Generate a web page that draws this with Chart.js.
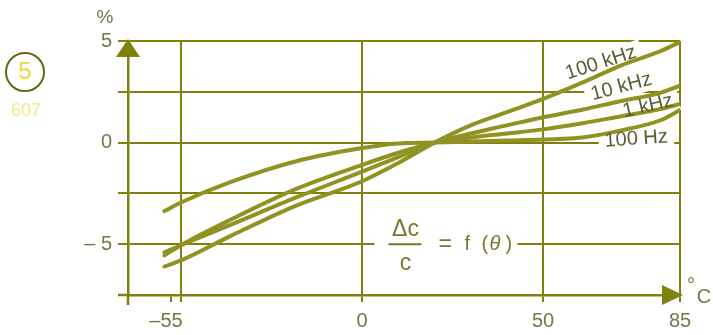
<!DOCTYPE html>
<html>
<head>
<meta charset="utf-8">
<script src="https://cdn.jsdelivr.net/npm/chart.js@4/dist/chart.umd.min.js"></script>
<style>
  html, body { margin: 0; padding: 0; background: #ffffff; }
  #wrap { width: 713px; height: 335px; }
</style>
</head>
<body>
<div id="wrap"><canvas id="chart" width="713" height="335"></canvas></div>
<script>
// Capacitance drift versus temperature, one curve per measuring frequency
const temps = [-60, -55, -40, -20, 0, 10, 20, 30, 40, 50, 60, 70, 80, 85];
const dev100kHz = [-6.1, -5.8, -4.6, -3.1, -1.9, -1.0, 0, 0.85, 1.5, 2.15, 2.95, 3.8, 4.5, 4.95];
const dev10kHz  = [-5.4, -5.05, -4.05, -2.7, -1.43, -0.72, 0, 0.45, 0.85, 1.25, 1.62, 2.05, 2.45, 2.8];
const dev1kHz   = [-5.55, -5.05, -3.8, -2.28, -1.1, -0.5, 0, 0.25, 0.45, 0.65, 0.95, 1.3, 1.65, 1.9];
const dev100Hz  = [-3.37, -2.95, -1.95, -0.92, -0.27, -0.04, 0, 0.05, 0.1, 0.15, 0.25, 0.6, 1.1, 1.6];

const seriesNames = ['100 kHz', '10 kHz', '1 kHz', '100 Hz'];
const xTickValues = [-58, -55, 0, 50, 85];
const xTickLabels = ['', '\u201355', '0', '50', '85'];
const yTickValues = [-7.5, -5, -2.5, 0, 2.5, 5];
const yTickLabels = ['', '\u2013 5', '', '0', '', '5'];

const OLIVE = 'rgb(128,128,14)';
const CURVE = 'rgb(144,146,34)';
const TEXT = 'rgb(118,118,70)';
const LABEL = 'rgb(92,92,52)';
const FONT = '"Liberation Sans", Arial, sans-serif';

// Temperature axis drawn with unequal spacing between its graduations
const knotValues = [-71, -55, 0, 50, 85];
const knotFractions = [0, 0.096, 0.424, 0.752, 1];

class PiecewiseScale extends Chart.LinearScale {
  static id = 'piecewise';
  static defaults = Chart.LinearScale.defaults;
  getPixelForValue(value) {
    if (value === null || value === undefined || isNaN(value)) return NaN;
    let i = 0;
    while (i < knotValues.length - 2 && value > knotValues[i + 1]) i++;
    const v0 = knotValues[i], v1 = knotValues[i + 1];
    const f0 = knotFractions[i], f1 = knotFractions[i + 1];
    return this.getPixelForDecimal(f0 + (value - v0) / (v1 - v0) * (f1 - f0));
  }
  getValueForPixel(pixel) {
    const d = this.getDecimalForPixel(pixel);
    let i = 0;
    while (i < knotFractions.length - 2 && d > knotFractions[i + 1]) i++;
    const v0 = knotValues[i], v1 = knotValues[i + 1];
    const f0 = knotFractions[i], f1 = knotFractions[i + 1];
    return v0 + (d - f0) / (f1 - f0) * (v1 - v0);
  }
}
Chart.register(PiecewiseScale);

function series(values) {
  return temps.map((t, i) => ({ x: t, y: values[i] }));
}

// curve captions: anchor in data units, rotation in degrees
const captions = [
  { text: '100 kHz', x: 64.8, y: 3.92, rot: -18 },
  { text: '10 kHz',  x: 70,   y: 2.74, rot: -15 },
  { text: '1 kHz',   x: 76.8, y: 1.8,  rot: -13 },
  { text: '100 Hz',  x: 73.8, y: 0.18, rot: -4 }
];
const CAPTION_FONT = '20px ' + FONT;

const decor = {
  id: 'decor',
  beforeDatasetsDraw(chart) {
    const ctx = chart.ctx, xs = chart.scales.x, ys = chart.scales.y;
    ctx.save();
    ctx.fillStyle = '#ffffff';
    ctx.font = CAPTION_FONT;
    captions.forEach(c => {
      const px = xs.getPixelForValue(c.x), py = ys.getPixelForValue(c.y);
      const w = ctx.measureText(c.text).width + 12;
      ctx.save();
      ctx.translate(px, py);
      ctx.rotate(c.rot * Math.PI / 180);
      ctx.fillRect(-w / 2, -11, w, 22);
      ctx.restore();
    });
    // gap in the -5 % line for the formula
    const fx = xs.getPixelForValue(12), fy = ys.getPixelForValue(-5);
    ctx.fillRect(fx - 31, fy - 5, 143, 10);
    ctx.restore();
  },
  afterDatasetsDraw(chart) {
    const ctx = chart.ctx, xs = chart.scales.x, ys = chart.scales.y;
    ctx.save();
    ctx.fillStyle = LABEL;
    ctx.font = CAPTION_FONT;
    ctx.textAlign = 'center';
    ctx.textBaseline = 'middle';
    captions.forEach(c => {
      const px = xs.getPixelForValue(c.x), py = ys.getPixelForValue(c.y);
      ctx.save();
      ctx.translate(px, py);
      ctx.rotate(c.rot * Math.PI / 180);
      ctx.fillText(c.text, 0, 0);
      ctx.restore();
    });
    // formula  Δc / c = f(θ)
    const fx = xs.getPixelForValue(12), fy = ys.getPixelForValue(-5);
    const ink = 'rgb(120,120,40)';
    ctx.fillStyle = ink;
    ctx.font = '23px ' + FONT;
    ctx.fillText('\u0394c', fx, fy - 15);
    ctx.fillText('c', fx, fy + 19);
    ctx.strokeStyle = ink;
    ctx.lineWidth = 2;
    ctx.beginPath();
    ctx.moveTo(fx - 17, fy);
    ctx.lineTo(fx + 16, fy);
    ctx.stroke();
    ctx.textAlign = 'left';
    const parts = [['=', '23px ', 33], ['f', '20px ', 59], ['(', '20px ', 76], ['\u03b8', 'italic 20px ', 84], [')', '20px ', 100]];
    parts.forEach(([t, f, dx]) => {
      ctx.font = f + FONT;
      ctx.fillText(t, fx + dx, fy);
    });
    ctx.restore();
  },
  afterDraw(chart) {
    const ctx = chart.ctx, a = chart.chartArea;
    ctx.save();
    ctx.strokeStyle = OLIVE;
    ctx.fillStyle = OLIVE;
    ctx.lineWidth = 2.5;
    // axis lines running past the origin
    ctx.beginPath();
    ctx.moveTo(a.left, a.bottom);
    ctx.lineTo(a.left, a.bottom + 10);
    ctx.moveTo(a.left, a.bottom);
    ctx.lineTo(a.left - 10, a.bottom);
    ctx.stroke();
    // arrow heads
    ctx.beginPath();
    ctx.moveTo(a.left, a.top - 2);
    ctx.lineTo(a.left - 12, a.top + 16);
    ctx.lineTo(a.left + 12, a.top + 16);
    ctx.closePath();
    ctx.fill();
    ctx.beginPath();
    ctx.moveTo(a.right + 3, a.bottom);
    ctx.lineTo(a.right - 18, a.bottom - 10);
    ctx.lineTo(a.right - 18, a.bottom + 10);
    ctx.closePath();
    ctx.fill();
    // units
    ctx.fillStyle = TEXT;
    ctx.textAlign = 'center';
    ctx.textBaseline = 'middle';
    ctx.font = '19px ' + FONT;
    ctx.fillText('%', a.left - 23, a.top - 23);
    ctx.font = '20px ' + FONT;
    ctx.fillText('\u00b0', a.right + 11, a.bottom - 9);
    ctx.fillText('C', a.right + 24, a.bottom + 2);
    // figure badge
    ctx.strokeStyle = 'rgb(104,102,18)';
    ctx.lineWidth = 2;
    ctx.beginPath();
    ctx.arc(25, 72, 19, 0, Math.PI * 2);
    ctx.stroke();
    ctx.fillStyle = 'rgb(234,220,56)';
    ctx.font = '24px ' + FONT;
    ctx.fillText('5', 25, 72);
    ctx.fillStyle = 'rgb(242,232,140)';
    ctx.font = '18px ' + FONT;
    ctx.fillText('607', 26, 111);
    ctx.restore();
  }
};

const lineStyle = {
  borderColor: CURVE,
  borderWidth: 4,
  pointRadius: 0,
  cubicInterpolationMode: 'monotone',
  borderCapStyle: 'round',
  fill: false
};

new Chart(document.getElementById('chart'), {
  type: 'line',
  data: {
    datasets: [
      Object.assign({ label: seriesNames[0], data: series(dev100kHz) }, lineStyle),
      Object.assign({ label: seriesNames[1], data: series(dev10kHz) }, lineStyle),
      Object.assign({ label: seriesNames[2], data: series(dev1kHz) }, lineStyle),
      Object.assign({ label: seriesNames[3], data: series(dev100Hz) }, lineStyle)
    ]
  },
  options: {
    responsive: false,
    animation: false,
    events: [],
    layout: { padding: { top: 41, right: 33, left: 0, bottom: 0 } },
    plugins: { legend: { display: false }, tooltip: { enabled: false } },
    scales: {
      x: {
        type: 'piecewise',
        min: -71,
        max: 85,
        afterBuildTicks: s => { s.ticks = xTickValues.map(v => ({ value: v })); },
        afterFit: s => { s.height = 40; },
        grid: {
          color: c => (c.tick && c.tick.value === -58) ? 'rgba(0,0,0,0)' : OLIVE,
          tickColor: OLIVE,
          lineWidth: 2,
          tickLength: 7,
          tickWidth: 2
        },
        border: { color: OLIVE, width: 2.5 },
        ticks: {
          autoSkip: false,
          maxRotation: 0,
          padding: 7,
          color: TEXT,
          font: { family: FONT, size: 20 },
          callback: (v) => {
            const i = xTickValues.indexOf(v);
            const t = i >= 0 ? xTickLabels[i] : '';
            return v === -55 ? t + '\u2003\u2002' : t;
          }
        }
      },
      y: {
        type: 'linear',
        min: -7.5,
        max: 5,
        afterBuildTicks: s => { s.ticks = yTickValues.map(v => ({ value: v })); },
        afterFit: s => { s.width = 128; },
        grid: { color: OLIVE, lineWidth: 2, tickLength: 10, tickWidth: 2 },
        border: { color: OLIVE, width: 2.5 },
        ticks: {
          padding: 6,
          color: TEXT,
          font: { family: FONT, size: 20 },
          callback: (v) => {
            const i = yTickValues.indexOf(v);
            return i >= 0 ? yTickLabels[i] : '';
          }
        }
      }
    }
  },
  plugins: [decor]
});
</script>
</body>
</html>
